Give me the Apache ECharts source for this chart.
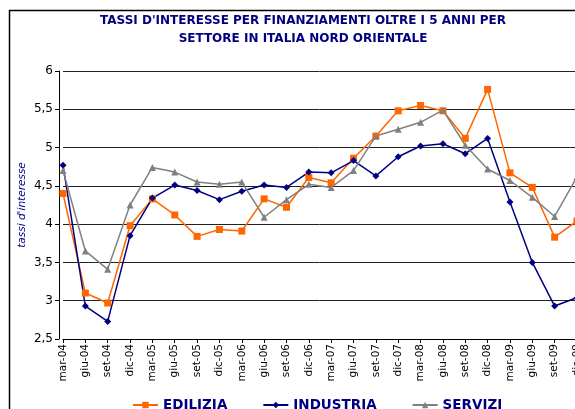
<!DOCTYPE html>
<html>
<head>
<meta charset="utf-8">
<script src="https://cdn.jsdelivr.net/npm/echarts@6/dist/echarts.min.js"></script>
<style>
  html, body { margin: 0; padding: 0; background: #fff; }
  #chart { width: 575px; height: 409px; }
</style>
</head>
<body>
<div id="chart"></div>
<script>
// trimestri
const categories = [
  "mar-04", "giu-04", "set-04", "dic-04", "mar-05", "giu-05", "set-05", "dic-05",
  "mar-06", "giu-06", "set-06", "dic-06", "mar-07", "giu-07", "set-07", "dic-07",
  "mar-08", "giu-08", "set-08", "dic-08", "mar-09", "giu-09", "set-09", "dic-09"
];
const edilizia = [
  4.40, 3.10, 2.97, 3.98, 4.33, 4.12, 3.84, 3.93,
  3.91, 4.33, 4.22, 4.61, 4.54, 4.86, 5.15, 5.48,
  5.55, 5.48, 5.12, 5.76, 4.67, 4.48, 3.83, 4.04
];
const industria = [
  4.77, 2.93, 2.73, 3.85, 4.34, 4.51, 4.44, 4.32,
  4.43, 4.51, 4.48, 4.68, 4.67, 4.83, 4.63, 4.88,
  5.02, 5.05, 4.92, 5.12, 4.29, 3.50, 2.93, 3.04
];
const servizi = [
  4.70, 3.65, 3.41, 4.25, 4.74, 4.68, 4.55, 4.52,
  4.55, 4.09, 4.32, 4.52, 4.48, 4.70, 5.15, 5.24,
  5.33, 5.49, 5.03, 4.72, 4.57, 4.35, 4.10, 4.62
];

const navy = "#000080";
const font = "DejaVu Sans";

const myChart = echarts.init(document.getElementById("chart"));
const option = {
  animation: false,
  title: {
    text: "TASSI D'INTERESSE PER FINANZIAMENTI OLTRE I 5 ANNI PER\nSETTORE IN ITALIA NORD ORIENTALE",
    left: 298,
    textAlign: "center",
    top: 7,
    textStyle: {
      color: navy,
      fontFamily: font,
      fontWeight: "bold",
      fontSize: 12,
      lineHeight: 18
    }
  },
  // cornice del grafico
  graphic: [
    {
      type: "rect",
      shape: { x: 9.5, y: 10.5, width: 600, height: 420 },
      style: { fill: "none", stroke: "#000", lineWidth: 1.5 },
      silent: true
    }
  ],
  legend: {
    left: 127,
    top: 393,
    itemGap: 35,
    itemWidth: 25,
    itemHeight: 8,
    textStyle: {
      color: navy,
      fontFamily: font,
      fontWeight: "bold",
      fontSize: 13.5
    },
    data: ["EDILIZIA", "INDUSTRIA", "SERVIZI"]
  },
  grid: {
    left: 63,
    right: -2,
    top: 71,
    bottom: 70,
    outerBoundsMode: "none"
  },
  xAxis: {
    type: "category",
    data: categories,
    boundaryGap: false,
    axisLine: { lineStyle: { color: "#000", width: 1 } },
    axisTick: { alignWithLabel: true, length: 4, lineStyle: { color: "#000" } },
    axisLabel: {
      rotate: 90,
      interval: 0,
      margin: 5,
      color: "#000",
      fontFamily: font,
      fontSize: 10.5
    },
    splitLine: { show: false }
  },
  yAxis: {
    type: "value",
    min: 2.5,
    max: 6,
    interval: 0.5,
    offset: 4,
    name: "tassi d'interesse",
    nameLocation: "middle",
    nameGap: 31,
    nameMoveOverlap: false,
    nameRotate: 90,
    nameTextStyle: {
      color: navy,
      fontFamily: font,
      fontStyle: "italic",
      fontSize: 10.5
    },
    axisLine: { show: true, lineStyle: { color: "#000", width: 1 } },
    axisTick: { show: true, length: 4, lineStyle: { color: "#000" } },
    axisLabel: {
      margin: 6,
      color: "#000",
      fontFamily: font,
      fontSize: 12,
      formatter: v => String(v).replace(".", ",")
    },
    splitLine: { lineStyle: { color: "#222", width: 1 } }
  },
  series: [
    {
      name: "EDILIZIA",
      type: "line",
      data: edilizia,
      symbol: "rect",
      symbolSize: 7,
      itemStyle: { color: "#FF6600" },
      lineStyle: { color: "#FF6600", width: 1.5 }
    },
    {
      name: "INDUSTRIA",
      type: "line",
      data: industria,
      symbol: "diamond",
      symbolSize: 7,
      itemStyle: { color: navy },
      lineStyle: { color: navy, width: 1.5 }
    },
    {
      name: "SERVIZI",
      type: "line",
      data: servizi,
      symbol: "triangle",
      symbolSize: 7,
      itemStyle: { color: "#808080" },
      lineStyle: { color: "#808080", width: 1.5 }
    }
  ]
};
myChart.setOption(option);
</script>
</body>
</html>
